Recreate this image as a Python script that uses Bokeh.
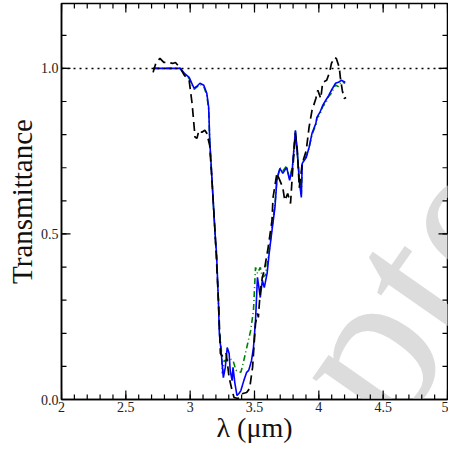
from bokeh.plotting import figure
from bokeh.models import Span, Label, FixedTicker, Range1d
from bokeh.embed import file_html
from bokeh.resources import INLINE

# ---- data ----
wl_blue = [2.712, 2.924, 2.955, 2.992, 3.030, 3.053, 3.076, 3.106, 3.129, 3.144, 3.152, 3.167,
           3.182, 3.197, 3.205, 3.220, 3.227, 3.242, 3.258, 3.273, 3.288, 3.303, 3.311, 3.326,
           3.333, 3.348, 3.364, 3.379, 3.394, 3.417, 3.439, 3.455, 3.477, 3.492, 3.508, 3.523,
           3.530, 3.545, 3.561, 3.576, 3.598, 3.614, 3.636, 3.659, 3.674, 3.697, 3.720, 3.750,
           3.773, 3.795, 3.818, 3.833, 3.848, 3.864, 3.871, 3.902, 3.924, 3.947, 3.977, 3.985,
           4.008, 4.030, 4.053, 4.076, 4.098, 4.129, 4.152, 4.174, 4.205]
t_blue = [1.000, 1.000, 0.985, 0.973, 0.940, 0.946, 0.955, 0.949, 0.925, 0.882, 0.782, 0.683,
          0.580, 0.480, 0.441, 0.290, 0.199, 0.139, 0.066, 0.097, 0.157, 0.139, 0.088, 0.057,
          0.097, 0.048, 0.012, 0.018, 0.027, 0.057, 0.082, 0.088, 0.118, 0.157, 0.239, 0.369,
          0.350, 0.308, 0.360, 0.338, 0.381, 0.441, 0.511, 0.580, 0.662, 0.698, 0.683, 0.701,
          0.662, 0.701, 0.813, 0.743, 0.662, 0.610, 0.713, 0.731, 0.761, 0.804, 0.834, 0.852,
          0.867, 0.888, 0.903, 0.918, 0.934, 0.955, 0.958, 0.964, 0.958]

wl_green = [2.712, 2.924, 2.955, 2.992, 3.030, 3.053, 3.076, 3.106, 3.129, 3.144, 3.152, 3.167,
            3.182, 3.197, 3.205, 3.220, 3.227, 3.242, 3.250, 3.265, 3.288, 3.303, 3.333, 3.356,
            3.394, 3.417, 3.447, 3.470, 3.492, 3.508, 3.523, 3.545, 3.561, 3.583, 3.598, 3.614,
            3.636, 3.659, 3.674, 3.697, 3.720, 3.750, 3.773, 3.795, 3.818, 3.833, 3.848, 3.864,
            3.871, 3.902, 3.924, 3.947, 3.977, 3.985, 4.008, 4.030, 4.053, 4.076, 4.098, 4.129,
            4.152, 4.174, 4.205]
t_green = [1.000, 1.000, 0.982, 0.970, 0.937, 0.944, 0.952, 0.945, 0.920, 0.875, 0.780, 0.680,
           0.575, 0.475, 0.440, 0.290, 0.210, 0.150, 0.079, 0.118, 0.118, 0.124, 0.118, 0.088,
           0.082, 0.118, 0.169, 0.208, 0.269, 0.399, 0.381, 0.399, 0.369, 0.375, 0.405, 0.450,
           0.520, 0.590, 0.665, 0.700, 0.690, 0.705, 0.665, 0.705, 0.810, 0.745, 0.670, 0.620,
           0.715, 0.735, 0.760, 0.800, 0.830, 0.850, 0.860, 0.885, 0.895, 0.915, 0.925, 0.950,
           0.945, 0.960, 0.955]

wl_black = [2.712, 2.735, 2.765, 2.795, 2.826, 2.864, 2.886, 2.924, 2.955, 2.992, 3.015, 3.038,
            3.053, 3.068, 3.091, 3.114, 3.129, 3.152, 3.167, 3.182, 3.197, 3.220, 3.235, 3.258,
            3.280, 3.303, 3.326, 3.341, 3.371, 3.409, 3.439, 3.462, 3.485, 3.508, 3.523, 3.530,
            3.545, 3.561, 3.576, 3.606, 3.636, 3.644, 3.674, 3.697, 3.720, 3.735, 3.758, 3.780,
            3.795, 3.818, 3.833, 3.848, 3.871, 3.902, 3.924, 3.947, 3.977, 3.992, 4.015, 4.030,
            4.061, 4.083, 4.098, 4.121, 4.136, 4.159, 4.167, 4.182, 4.197, 4.212]
t_black = [0.988, 1.018, 1.030, 1.018, 1.018, 1.015, 1.018, 1.000, 0.979, 0.964, 0.894, 0.792,
           0.789, 0.813, 0.807, 0.813, 0.804, 0.767, 0.677, 0.580, 0.480, 0.299, 0.139, 0.127,
           0.139, 0.066, 0.027, 0.006, 0.003, 0.018, 0.021, 0.033, 0.097, 0.230, 0.260, 0.248,
           0.329, 0.369, 0.390, 0.459, 0.541, 0.610, 0.683, 0.662, 0.640, 0.601, 0.622, 0.592,
           0.683, 0.804, 0.752, 0.640, 0.713, 0.752, 0.822, 0.873, 0.909, 0.934, 0.909, 0.958,
           0.964, 0.988, 1.015, 1.033, 1.030, 1.003, 0.973, 0.934, 0.909, 0.912]

x_major = [2, 2.5, 3, 3.5, 4, 4.5, 5]
x_major_labels = ["2", "2.5", "3", "3.5", "4", "4.5", "5"]
x_minor = [round(2 + 0.1 * i, 2) for i in range(31)]
y_major = [0.0, 0.5, 1.0]
y_major_labels = ["0.0", "0.5", "1.0"]
y_minor = [round(0.1 * i, 2) for i in range(12)]
reference_level = 1.0
x_title = "λ (μm)"
y_title = "Transmittance"
watermark = "Accepted Manuscript"

FONT = "'Liberation Serif', 'DejaVu Serif', serif"
X0, X1 = 2.0, 5.0
Y0, Y1 = 0.0, 1.196
W, H = 448, 446
BL, BR, BT, BB = 61, 1, 3, 47
px_x = (X1 - X0) / (W - BL - BR)   # data per pixel, x
px_y = (Y1 - Y0) / (H - BT - BB)   # data per pixel, y

p = figure(width=W, height=H, x_range=Range1d(X0, X1), y_range=Range1d(Y0, Y1),
           output_backend="svg", toolbar_location=None,
           min_border_left=BL, min_border_right=BR, min_border_top=BT, min_border_bottom=BB,
           x_axis_label=x_title, y_axis_label=y_title)
p.grid.visible = False
p.outline_line_color = "black"
p.outline_line_width = 1.5
p.background_fill_color = "white"

for ax, ticks, minor, labels in ((p.xaxis[0], x_major, x_minor, x_major_labels),
                                 (p.yaxis[0], y_major, y_minor, y_major_labels)):
    ax.ticker = FixedTicker(ticks=ticks, minor_ticks=minor)
    ax.axis_line_width = 1.5
    ax.major_tick_in = 0
    ax.major_tick_out = 0
    ax.minor_tick_in = 0
    ax.minor_tick_out = 0
    ax.major_label_overrides = {t: l for t, l in zip(ticks, labels)}
    ax.major_label_text_font = FONT
    ax.major_label_text_font_size = "14px"
    ax.major_label_text_color = "#222222"
    ax.axis_label_text_font = FONT
    ax.axis_label_text_font_style = "normal"
    ax.axis_label_text_color = "#111111"
p.xaxis[0].axis_label_text_font_size = "28px"
p.yaxis[0].axis_label_text_font_size = "29px"
p.xaxis[0].major_label_standoff = 2
p.xaxis[0].axis_label_standoff = -3
p.yaxis[0].major_label_standoff = 3
p.yaxis[0].axis_label_standoff = 0

# inward ticks on all four sides
MAJ, MIN = 9, 5
tick_kw = dict(line_color="black", line_width=1.2)
p.segment(x0=x_minor, y0=[Y0] * len(x_minor), x1=x_minor, y1=[Y0 + MIN * px_y] * len(x_minor), **tick_kw)
p.segment(x0=x_minor, y0=[Y1] * len(x_minor), x1=x_minor, y1=[Y1 - MIN * px_y] * len(x_minor), **tick_kw)
p.segment(x0=x_major, y0=[Y0] * len(x_major), x1=x_major, y1=[Y0 + MAJ * px_y] * len(x_major), **tick_kw)
p.segment(x0=x_major, y0=[Y1] * len(x_major), x1=x_major, y1=[Y1 - MAJ * px_y] * len(x_major), **tick_kw)
p.segment(x0=[X0] * len(y_minor), y0=y_minor, x1=[X0 + MIN * px_x] * len(y_minor), y1=y_minor, **tick_kw)
p.segment(x0=[X1] * len(y_minor), y0=y_minor, x1=[X1 - MIN * px_x] * len(y_minor), y1=y_minor, **tick_kw)
p.segment(x0=[X0] * len(y_major), y0=y_major, x1=[X0 + MAJ * px_x] * len(y_major), y1=y_major, **tick_kw)
p.segment(x0=[X1] * len(y_major), y0=y_major, x1=[X1 - MAJ * px_x] * len(y_major), y1=y_major, **tick_kw)

# watermark (behind everything)
p.add_layout(Label(x=2.085, y=-1.112, text=watermark, angle=55, angle_units="deg",
                   text_font=FONT, text_font_size="220px", text_color="#dcdcdc",
                   text_baseline="alphabetic", level="underlay"))

p.add_layout(Span(location=reference_level, dimension="width", line_color="black",
                  line_dash="2 4", line_width=1.5))

p.line(wl_green, t_green, line_color="#008000", line_width=1.6, line_dash="6 3 1 3")
p.line(wl_blue, t_blue, line_color="#0000ff", line_width=1.6)
p.line(wl_black, t_black, line_color="black", line_width=1.7, line_dash="9 5")

open("out.html", "w").write(file_html(p, INLINE))
